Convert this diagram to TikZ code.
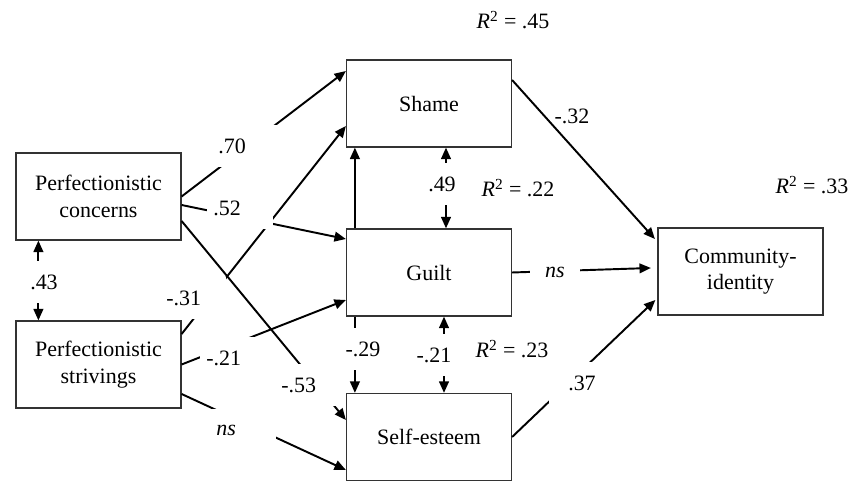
\documentclass[tikz,border=0pt]{standalone}
\usepackage{fontspec}
\setmainfont{Liberation Serif}
\usetikzlibrary{arrows.meta}

\newcommand{\lbfont}{\fontsize{12.5}{15.2}\selectfont}

\begin{document}
\begin{tikzpicture}[x=0.02cm, y=-0.02cm,
  var/.style={draw=black!80, line width=0.7pt, minimum width=3.3cm,
    minimum height=1.74cm, align=center, font=\lbfont, inner sep=0pt},
  link/.style={line width=1.1pt, -{Triangle[length=6.5pt,width=5.5pt]}},
  mutual/.style={line width=1.1pt,
    {Triangle[length=6.5pt,width=5.5pt]}-{Triangle[length=6.5pt,width=5.5pt]}},
  coef/.style={fill=white, font=\lbfont, text width=1.08cm, align=left,
    inner xsep=0.12cm, inner ysep=0pt, minimum height=0.84cm, anchor=west},
  vcoef/.style={fill=white, font=\lbfont, inner xsep=1.5pt, inner ysep=0pt,
    minimum height=0.84cm},
  rsq/.style={font=\lbfont}]
  \useasboundingbox (0,0) rectangle (860,482);

  %% variables
  \node[var] (pc)    at (98.5,196.5) {Perfectionistic\\concerns};
  \node[var] (ps)    at (98.5,364.5) {Perfectionistic\\strivings};
  \node[var] (shame) at (429,103.5)  {Shame};
  \node[var] (guilt) at (429,272.5)  {Guilt};
  \node[var] (se)    at (429,437)    {Self-esteem};
  \node[var] (ci)    at (740.5,271.5) {Community-\\identity};

  %% paths from the perfectionism dimensions
  \draw[link] (pc.east) -- ([yshift=0.65cm]shame.west);
  \draw[link] ([yshift=0.61cm]ps.east) -- ([yshift=-0.45cm]shame.west);
  \draw[link] ([yshift=-0.17cm]pc.east) -- ([yshift=0.67cm]guilt.west);
  \draw[link] (ps.east) -- ([yshift=-0.55cm]guilt.west);
  \draw[link] ([yshift=-0.49cm]pc.east) -- ([yshift=0.34cm]se.west);
  \draw[link] ([yshift=-0.59cm]ps.east) -- ([yshift=-0.66cm]se.west);

  %% paths to community identity
  \draw[link] ([yshift=0.47cm]shame.east) -- ([xshift=-0.05cm, yshift=0.65cm]ci.west);
  \draw[link] (guilt.east) -- ([xshift=-0.13cm, yshift=0.07cm]ci.west);
  \draw[link] (se.east) -- ([xshift=-0.04cm, yshift=-0.57cm]ci.west);

  %% paths among the mediators
  \draw[link] ([xshift=0.18cm]guilt.north west) -- ([xshift=0.18cm]shame.south west);
  \draw[link] ([xshift=0.18cm]guilt.south west) -- ([xshift=0.18cm]se.north west);
  \draw[mutual] ([xshift=0.34cm]shame.south) -- ([xshift=0.34cm]guilt.north);
  \draw[mutual] ([xshift=0.3cm]guilt.south) -- ([xshift=0.3cm]se.north);
  \draw[mutual] ([xshift=0.46cm]pc.south west) -- ([xshift=0.46cm]ps.north west);

  %% coefficients
  \node[coef] (c70) at (212,146) {.70};
  \node[coef] (c52) at (207,208) {.52};
  \node[coef] (c31) at (160,298) {-.31};
  \node[coef] (c21) at (200,358) {-.21};
  \node[coef] (cns) at (210,430) {\textit{ns}};
  \node[coef] (c53) at (275,385) {-.53};
  \node[coef, anchor=center, align=center] (c37) at (582,383) {.37};
  \node[coef, anchor=center, align=center, text width=0.78cm] (cgns) at (555,272) {\textit{ns}};
  \node[rsq] (c32) at (572,116) {-.32};

  \node[vcoef] (c43)  at (44,282)  {.43};
  \node[vcoef] (c49)  at (442,184) {.49};
  \node[vcoef] (cg21) at (434,355) {-.21};
  \node[vcoef] (c29)  at (363,349) {-.29};

  %% explained variance
  \node[rsq] (r45) at (513,20)  {\textit{R}\textsuperscript{2} = .45};
  \node[rsq] (r22) at (518,188) {\textit{R}\textsuperscript{2} = .22};
  \node[rsq] (r23) at (512,349) {\textit{R}\textsuperscript{2} = .23};
  \node[rsq] (r33) at (812,185) {\textit{R}\textsuperscript{2} = .33};
\end{tikzpicture}
\end{document}
